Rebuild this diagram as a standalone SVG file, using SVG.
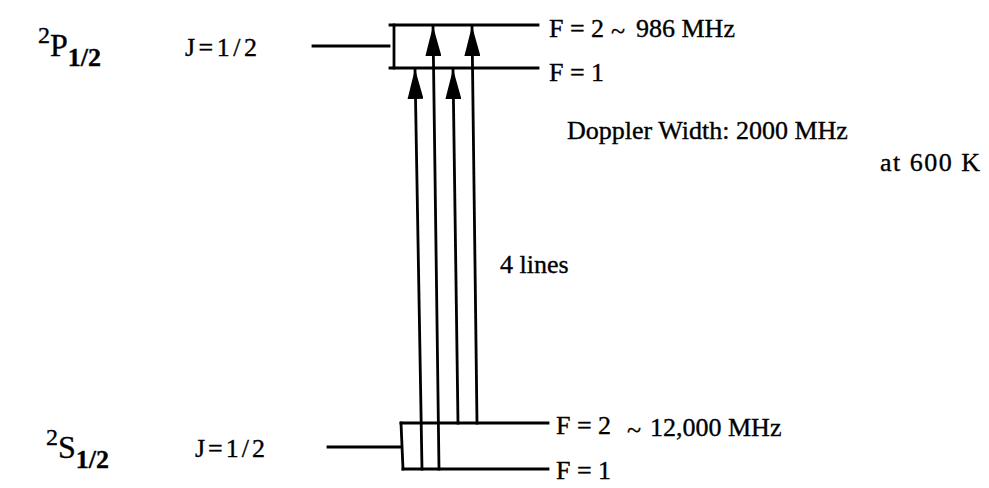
<svg xmlns="http://www.w3.org/2000/svg" width="989" height="488" viewBox="0 0 989 488">
<style>
.t{font-family:"Liberation Serif","Times New Roman",serif;font-size:26px;fill:#000;stroke:#000;stroke-width:0.35}
.big{font-size:32px}
.sup{font-size:24px}
.sub{font-size:26px;font-weight:bold}
.ln{stroke:#000;stroke-width:2.8;fill:none;stroke-linecap:square}
</style>
<defs>
<marker id="ah" markerUnits="userSpaceOnUse" markerWidth="30" markerHeight="16" viewBox="0 0 30 16" refX="30" refY="8" orient="auto">
<path d="M0,0 L30,8 L0,16 Z" fill="#000"/>
</marker>
</defs>
<g id="upper-level">
<line class="ln" x1="313" y1="46" x2="389" y2="46"/>
<line class="ln" x1="390" y1="25" x2="538" y2="25"/>
<line class="ln" x1="390" y1="68" x2="538" y2="68"/>
<line class="ln" x1="394" y1="25" x2="394" y2="68"/>
<text class="t big" x="38" y="56"><tspan class="sup" dy="-13">2</tspan><tspan dy="13">P</tspan><tspan class="sub" dy="10">1/2</tspan></text>
<text class="t" x="185" y="56" letter-spacing="3.5">J=1/2</text>
<text class="t" x="549" y="37">F = 2</text>
<text class="t" x="611" y="39">~</text>
<text class="t" x="636" y="37">986 MHz</text>
<text class="t" x="549" y="81">F = 1</text>
</g>
<g id="lower-level">
<line class="ln" x1="328" y1="447" x2="400" y2="447"/>
<line class="ln" x1="401" y1="423" x2="548" y2="423"/>
<line class="ln" x1="403" y1="469" x2="548" y2="469"/>
<line class="ln" x1="401" y1="423" x2="403" y2="469"/>
<text class="t big" x="46" y="458"><tspan class="sup" dy="-13">2</tspan><tspan dy="13">S</tspan><tspan class="sub" dy="10">1/2</tspan></text>
<text class="t" x="195" y="457" letter-spacing="3">J=1/2</text>
<text class="t" x="556" y="434">F = 2</text>
<text class="t" x="627" y="438">~</text>
<text class="t" x="650" y="436">12,000 MHz</text>
<text class="t" x="556" y="479">F = 1</text>
</g>
<g id="notes">
<text class="t" x="567" y="139">Doppler Width: 2000 MHz</text>
<text class="t" x="880" y="171" letter-spacing="1.5">at 600 K</text>
<text class="t" x="500" y="273">4 lines</text>
</g>
<g id="connectors">
<line class="ln" x1="422" y1="469" x2="415" y2="69" marker-end="url(#ah)"/>
<line class="ln" x1="439" y1="469" x2="433" y2="26" marker-end="url(#ah)"/>
<line class="ln" x1="458" y1="423" x2="453" y2="69" marker-end="url(#ah)"/>
<line class="ln" x1="477" y1="423" x2="472" y2="26" marker-end="url(#ah)"/>
</g>
</svg>
